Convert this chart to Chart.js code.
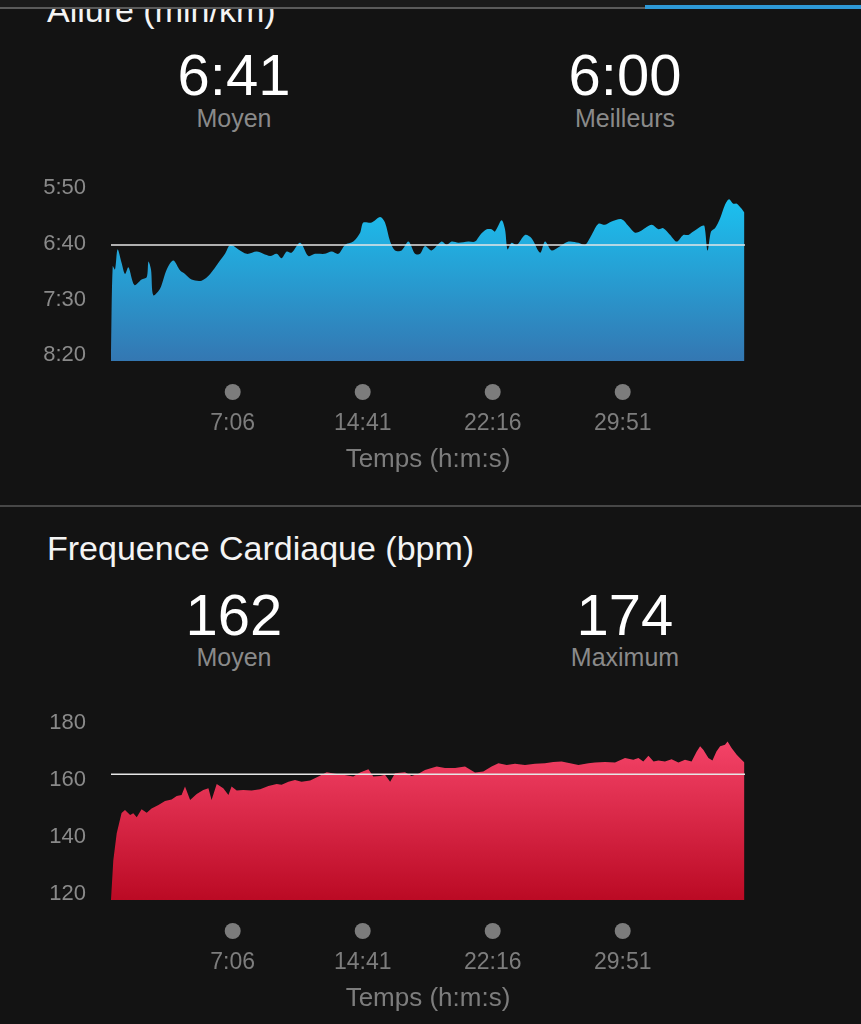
<!DOCTYPE html>
<html>
<head>
<meta charset="utf-8">
<script src="https://cdn.jsdelivr.net/npm/chart.js@4.4.0/dist/chart.umd.min.js"></script>
<style>
  body { margin: 0; width: 861px; height: 1024px; overflow: hidden; position: relative;
         background: #131313; font-family: "Liberation Sans", Arial, sans-serif; }
  .abs { position: absolute; white-space: nowrap; }
  .topbar { left: 0; top: 0; width: 861px; height: 8px; background: #1a1a1a; z-index: 5; }
  .topline { left: 0; top: 7px; width: 645px; height: 2px; background: #5a5a5a; z-index: 6; }
  .topblue { left: 645px; top: 5px; width: 216px; height: 4px; background: #2d98d6; z-index: 6; }
  .title { left: 47px; font-size: 34px; line-height: 34px; color: #f4f4f4; }
  .big { width: 300px; text-align: center; font-size: 58px; line-height: 58px; color: #ffffff; }
  .lbl { width: 300px; text-align: center; font-size: 25px; line-height: 25px; color: #8a8a8a; }
  .sep { left: 0; top: 505px; width: 861px; height: 2px; background: #474747; }
  .box { left: 0; width: 861px; }
</style>
</head>
<body>
<div class="abs topbar"></div>
<div class="abs topline"></div>
<div class="abs topblue"></div>

<div class="abs title" style="top:-7px">Allure (min/km)</div>
<div class="abs big" style="left:84px;top:46px">6:41</div>
<div class="abs big" style="left:475px;top:46px">6:00</div>
<div class="abs lbl" style="left:84px;top:106px">Moyen</div>
<div class="abs lbl" style="left:475px;top:106px">Meilleurs</div>
<div class="abs box" style="top:168px;height:305px"><canvas id="paceChart" width="861" height="305"></canvas></div>

<div class="abs sep"></div>

<div class="abs title" style="top:531px">Frequence Cardiaque (bpm)</div>
<div class="abs big" style="left:84px;top:586px">162</div>
<div class="abs big" style="left:475px;top:586px">174</div>
<div class="abs lbl" style="left:84px;top:645px">Moyen</div>
<div class="abs lbl" style="left:475px;top:645px">Maximum</div>
<div class="abs box" style="top:703px;height:309px"><canvas id="hrChart" width="861" height="309"></canvas></div>

<script>
// elapsed time in seconds
var timeTicks = [426, 881, 1336, 1791];
var timeMax = 2219;

// pace, seconds per km
var paceTicks = [350, 400, 450, 500];
var paceMin = 350;
var paceMax = 505;
var paceAvg = 401;
var paceTime = [0, 6, 14, 23, 37, 49, 61, 82, 107, 125,
  131, 140, 148, 172, 195, 218, 242, 259, 282, 317,
  347, 376, 399, 417, 446, 475, 510, 533, 557, 580,
  597, 615, 632, 662, 691, 714, 749, 772, 796, 819,
  848, 872, 883, 912, 942, 959, 977, 994, 1017, 1041,
  1064, 1082, 1099, 1122, 1157, 1175, 1192, 1216, 1251, 1274,
  1292, 1315, 1332, 1344, 1367, 1379, 1388, 1402, 1420, 1449,
  1472, 1502, 1519, 1542, 1566, 1601, 1636, 1659, 1682, 1706,
  1729, 1752, 1787, 1811, 1834, 1857, 1892, 1916, 1933, 1957,
  1980, 2003, 2021, 2038, 2067, 2077, 2088, 2100, 2114, 2132,
  2149, 2163, 2178, 2190, 2205, 2217];
var paceValues = [497, 420, 423, 405, 417, 427, 421, 437, 432, 430,
  416, 423, 446, 440, 423, 415, 424, 427, 432, 433,
  427, 417, 409, 401, 405, 409, 407, 409, 411, 409,
  413, 407, 408, 399, 411, 409, 409, 407, 409, 401,
  398, 390, 381, 381, 376, 381, 398, 406, 406, 398,
  409, 409, 402, 406, 398, 401, 398, 399, 398, 398,
  392, 387, 387, 389, 379, 387, 405, 399, 401, 392,
  395, 408, 398, 406, 403, 398, 399, 401, 392, 382,
  383, 380, 378, 384, 390, 388, 383, 387, 386, 392,
  398, 392, 392, 389, 384, 384, 406, 389, 386, 377,
  365, 360, 364, 364, 368, 372];

// heart rate, bpm
var hrTicks = [120, 140, 160, 180];
var hrMin = 117.9;
var hrMax = 180;
var hrAvg = 162;
var hrTime = [0, 8, 20, 37, 49, 67, 78, 90, 107, 125,
  142, 166, 189, 212, 230, 247, 259, 277, 300, 323,
  341, 352, 370, 393, 411, 422, 440, 463, 492, 522,
  551, 580, 597, 621, 644, 667, 697, 726, 755, 784,
  813, 848, 872, 901, 918, 942, 959, 977, 994, 1029,
  1052, 1076, 1099, 1122, 1140, 1169, 1204, 1239, 1274, 1303,
  1332, 1356, 1385, 1414, 1449, 1484, 1519, 1548, 1577, 1607,
  1636, 1671, 1694, 1729, 1764, 1799, 1828, 1846, 1863, 1881,
  1899, 1916, 1939, 1962, 1986, 2009, 2032, 2050, 2062, 2073,
  2091, 2105, 2119, 2132, 2149, 2158, 2172, 2190, 2207, 2217];
var hrValues = [118, 131.8, 141.3, 148.4, 149.5, 147.7, 148.3, 146.9, 149.7, 148.5,
  150, 151.2, 152.6, 153.2, 154.4, 154.7, 157.7, 153, 155.1, 156.5,
  157.1, 153, 158.6, 157.1, 154.7, 157.7, 156.3, 156.5, 156.3, 156.8,
  157.9, 158.6, 158.3, 159.4, 160, 159.4, 159.8, 161.2, 162.7, 162.2,
  161.8, 161.2, 162.6, 163.8, 161.2, 161.4, 161.8, 159.4, 162.4, 162.7,
  161.4, 162.2, 163.5, 164.2, 164.7, 164.2, 164.2, 164.7, 162.6, 163,
  164.7, 165.9, 165.3, 165.7, 165.3, 165.7, 165.9, 166.3, 166.5, 165.9,
  165.3, 165.9, 166.1, 166.3, 166.1, 167.7, 167.1, 167.7, 166.5, 168.5,
  166.5, 166.8, 166.5, 167.3, 166.1, 167.1, 166.5, 170, 171.8, 170.6,
  167.7, 166.8, 170, 171.8, 172.4, 173.5, 171.2, 168.9, 167.1, 166.1];

Chart.defaults.font.family = "'Liberation Sans', Arial, sans-serif";

function mmss(v) {
  var m = Math.floor(v / 60);
  var s = Math.round(v % 60);
  return m + ":" + (s < 10 ? "0" : "") + s;
}

function toPoints(xs, ys) {
  return xs.map(function (x, i) { return { x: x, y: ys[i] }; });
}

function gradient(topColor, bottomColor) {
  return function (context) {
    var area = context.chart.chartArea;
    if (!area) return topColor;
    var g = context.chart.ctx.createLinearGradient(0, area.top, 0, area.bottom);
    g.addColorStop(0, topColor);
    g.addColorStop(1, bottomColor);
    return g;
  };
}

// grey dot above every time label
var timeDots = {
  id: "timeDots",
  afterDraw: function (chart) {
    var ctx = chart.ctx;
    var xs = chart.scales.x;
    ctx.save();
    ctx.fillStyle = "#7c7c7c";
    xs.ticks.forEach(function (t) {
      ctx.beginPath();
      ctx.arc(xs.getPixelForValue(t.value), chart.chartArea.bottom + 31, 8, 0, Math.PI * 2);
      ctx.fill();
    });
    ctx.restore();
  }
};

function makeChart(canvas, o) {
  return new Chart(canvas, {
    type: "line",
    data: {
      datasets: [
        {
          data: [{ x: 0, y: o.avg }, { x: timeMax, y: o.avg }],
          borderColor: "#e6e6e6",
          borderWidth: 1.5,
          pointRadius: 0,
          fill: false,
          order: 0
        },
        {
          data: toPoints(o.time, o.values),
          borderColor: "rgba(0,0,0,0)",
          borderWidth: 1,
          backgroundColor: gradient(o.top, o.bottom),
          pointRadius: 0,
          tension: o.tension,
          fill: { value: o.base },
          order: 1
        }
      ]
    },
    options: {
      responsive: false,
      animation: false,
      layout: { padding: { top: 20, right: 116, bottom: 0, left: 0 } },
      plugins: { legend: { display: false }, tooltip: { enabled: false } },
      scales: {
        x: {
          type: "linear",
          min: 0,
          max: timeMax,
          afterBuildTicks: function (s) { s.ticks = timeTicks.map(function (v) { return { value: v }; }); },
          afterFit: function (s) { s.height = 112; },
          // tick marks hidden, their length only spaces the labels
          grid: { display: false, drawTicks: true, tickLength: 49 },
          border: { display: false },
          ticks: {
            padding: 0, maxRotation: 0, autoSkip: false, color: "#7d7d7d",
            font: { size: 23 },
            callback: function (v) { return mmss(v); }
          },
          title: {
            display: true, text: "Temps (h:m:s)", color: "#7d7d7d",
            font: { size: 26, lineHeight: 1 }, padding: 0
          }
        },
        y: {
          reverse: o.reverse,
          min: o.min,
          max: o.max,
          afterBuildTicks: function (s) { s.ticks = o.ticks.map(function (v) { return { value: v }; }); },
          afterFit: function (s) { s.width = 111; },
          grid: { display: false, drawTicks: true, tickLength: 25 },
          border: { display: false },
          ticks: {
            padding: 0, color: "#8a8a8a",
            font: { size: 22 },
            callback: o.label
          }
        }
      }
    },
    plugins: [timeDots]
  });
}

var paceChart = makeChart(document.getElementById("paceChart"), {
  time: paceTime, values: paceValues, avg: paceAvg,
  min: paceMin, max: paceMax, base: paceMax, reverse: true, ticks: paceTicks,
  label: function (v) { return mmss(v); },
  top: "#19c6f4", bottom: "#3477b2", tension: 0.3
});

var hrChart = makeChart(document.getElementById("hrChart"), {
  time: hrTime, values: hrValues, avg: hrAvg,
  min: hrMin, max: hrMax, base: hrMin, reverse: false, ticks: hrTicks,
  label: function (v) { return String(v); },
  top: "#fb4a70", bottom: "#bb0a24", tension: 0
});
</script>
</body>
</html>
